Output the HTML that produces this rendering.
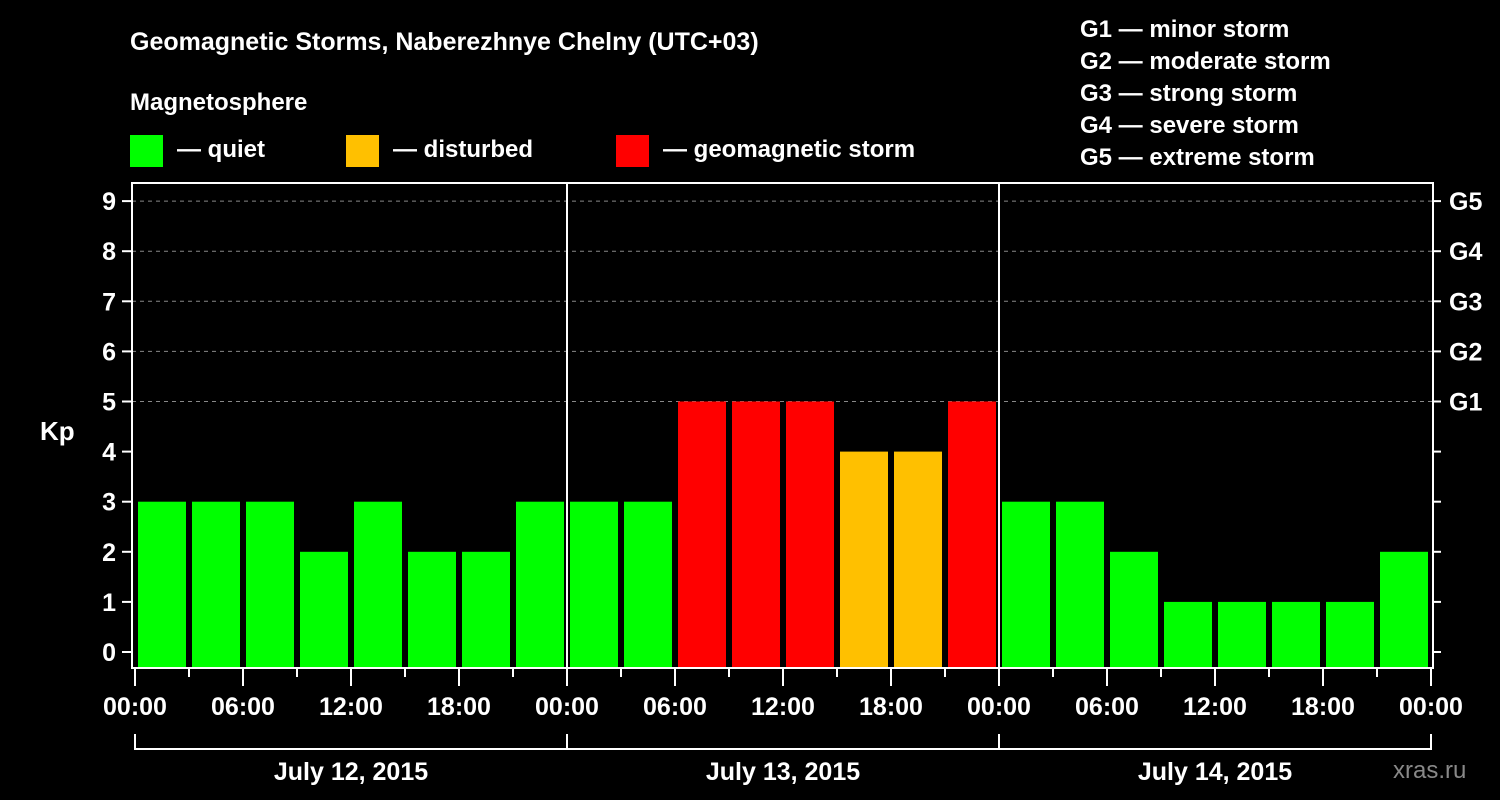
<!DOCTYPE html>
<html><head><meta charset="utf-8"><style>
html,body{margin:0;padding:0;background:#000;}
svg{display:block;font-family:"Liberation Sans",Arial,sans-serif;font-weight:bold;}
</style></head><body>
<svg id="chart" width="1500" height="800" viewBox="0 0 1500 800">
<rect width="1500" height="800" fill="#000"/>
<text x="130" y="50" fill="#fff" font-size="25">Geomagnetic Storms, Naberezhnye Chelny (UTC+03)</text>
<text x="130" y="110" fill="#fff" font-size="24">Magnetosphere</text>
<g><rect x="130" y="135" width="33" height="32" fill="#00ff00"/><text x="177" y="157" fill="#fff" font-size="24">— quiet</text></g>
<g><rect x="346" y="135" width="33" height="32" fill="#ffc000"/><text x="393" y="157" fill="#fff" font-size="24">— disturbed</text></g>
<g><rect x="616" y="135" width="33" height="32" fill="#ff0000"/><text x="663" y="157" fill="#fff" font-size="24">— geomagnetic storm</text></g>
<g fill="#fff" font-size="24">
<text x="1080" y="37">G1 — minor storm</text>
<text x="1080" y="69">G2 — moderate storm</text>
<text x="1080" y="101">G3 — strong storm</text>
<text x="1080" y="133">G4 — severe storm</text>
<text x="1080" y="165">G5 — extreme storm</text>
</g>
<text x="40" y="440" fill="#fff" font-size="26">Kp</text>
<text x="1393" y="778" fill="#888" font-size="24" font-weight="normal">xras.ru</text>
<g id="grid"></g><g id="bars"></g><g id="axes"></g>
</svg>
<script>
const days = ["July 12, 2015","July 13, 2015","July 14, 2015"];
const kpValues = [3,3,3,2,3,2,2,3, 3,3,5,5,5,4,4,5, 3,3,2,1,1,1,1,2];
const timeLabels = ["00:00","06:00","12:00","18:00"];
const gLabels = ["G1","G2","G3","G4","G5"];
const yTicks = [0,1,2,3,4,5,6,7,8,9];

const NS="http://www.w3.org/2000/svg";
const X0=135, SLOT=54, PL=132, PR=1433, PT=183, PB=668;
const x = i => X0 + i*SLOT;
const y = v => 652 - v*50.1;
function mk(tag, attrs, parent){const e=document.createElementNS(NS,tag);for(const k in attrs)e.setAttribute(k,attrs[k]);parent.appendChild(e);return e;}
const grid=document.getElementById('grid'), bars=document.getElementById('bars'), axes=document.getElementById('axes');

// grid lines for 5..9
for(let v=5; v<=9; v++){
  const l=mk('line',{x1:PL,x2:PR,y1:y(v),y2:y(v),stroke:'#888','stroke-dasharray':'4,4','stroke-width':1},grid);
  
  
}
// bars
kpValues.forEach((v,i)=>{
  const c = v>=5?'#ff0000':(v>=4?'#ffc000':'#00ff00');
  const r=mk('rect',{x:x(i)+3,y:y(v),width:48,height:PB-y(v),fill:c},bars);
  
  
});
// frame
const f=mk('rect',{x:PL,y:PT,width:PR-PL,height:PB-PT,fill:'none',stroke:'#fff','stroke-width':2},axes);


// day dividers
for(let d=1; d<days.length; d++){
  const l=mk('line',{x1:x(d*8),x2:x(d*8),y1:PT,y2:PB,stroke:'#fff','stroke-width':2},axes);
  
  
}
// y ticks
yTicks.forEach(v=>{
  mk('line',{x1:122,x2:PL,y1:y(v),y2:y(v),stroke:'#fff','stroke-width':2},axes);
  mk('line',{x1:PR,x2:1441,y1:y(v),y2:y(v),stroke:'#fff','stroke-width':2},axes);
  const t=mk('text',{x:116,y:y(v)+9,fill:'#fff','font-size':25,'text-anchor':'end'},axes);
  t.textContent=v;
  
  
});
gLabels.forEach((g,i)=>{
  const t=mk('text',{x:1449,y:y(5+i)+9,fill:'#fff','font-size':25},axes);
  t.textContent=g;
  
  
});
// x ticks
for(let i=0;i<=kpValues.length;i++){
  const major = i%2===0;
  mk('line',{x1:x(i),x2:x(i),y1:PB,y2:major?686:677,stroke:'#fff','stroke-width':2},axes);
  if(major){
    const t=mk('text',{x:x(i),y:715,fill:'#fff','font-size':25,'text-anchor':'middle'},axes);
    t.textContent=timeLabels[(i/2)%4];
    
    
  }
}
// day brackets
mk('line',{x1:x(0),x2:x(kpValues.length),y1:749,y2:749,stroke:'#fff','stroke-width':2},axes);
days.forEach((d,i)=>{
  mk('line',{x1:x(i*8),x2:x(i*8),y1:734,y2:750,stroke:'#fff','stroke-width':2},axes);
  const t=mk('text',{x:x(i*8+4),y:780,fill:'#fff','font-size':25,'text-anchor':'middle'},axes);
  t.textContent=d;
  
  
});
mk('line',{x1:x(24),x2:x(24),y1:734,y2:750,stroke:'#fff','stroke-width':2},axes);
</script>
</body></html>
